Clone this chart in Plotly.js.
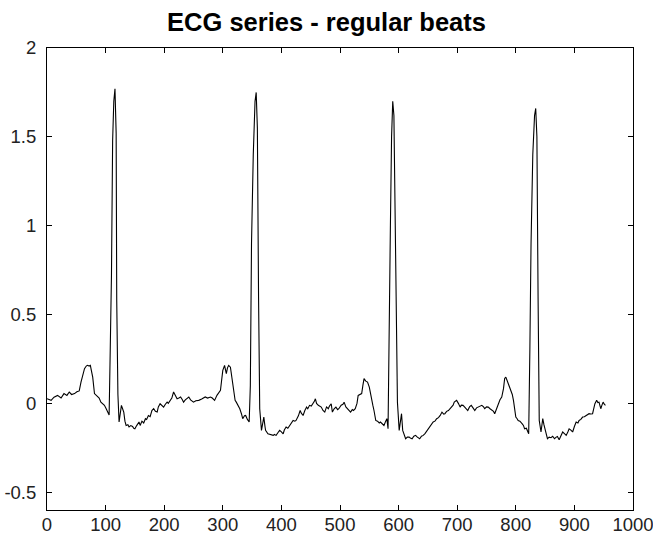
<!DOCTYPE html>
<html>
<head>
<meta charset="utf-8">
<script src="https://cdn.plot.ly/plotly-3.0.1.min.js"></script>
<style>html,body{margin:0;padding:0;background:#fff;}#chart{width:653px;height:536px;}</style>
</head>
<body>
<div id="chart"></div>
<script>
const sampleIndex = [0,7,12,18,24,29,34,38,42,47,51,55,58,61,64,67,69,72,74,76,78,81,84,86,89,92,95,98,101,104,106,108,110,112,114,116,118,119,121,123,125,127,129,131,133,135,138,140,143,146,148,150,153,157,159,162,165,168,170,173,176,179,182,185,188,190,193,196,199,202,205,207,210,213,216,219,222,225,228,231,233,236,239,242,245,248,250,254,259,264,270,274,279,282,286,290,293,296,298,300,303,306,308,310,313,315,317,319,321,323,326,329,332,334,337,339,342,345,347,349,352,355,357,359,361,363,366,368,370,372,373,377,381,386,388,391,394,397,400,403,405,408,411,414,417,420,423,425,429,432,434,437,440,443,445,448,451,454,456,458,460,463,466,468,471,474,477,480,482,485,487,490,493,496,498,502,505,507,510,513,516,518,521,523,526,529,531,534,537,539,541,544,547,550,552,554,556,558,561,564,567,569,572,575,578,580,582,584,586,588,590,592,594,596,598,601,603,605,607,610,612,615,618,620,623,626,629,632,636,639,642,645,649,651,655,659,662,665,668,671,674,677,679,682,685,688,690,693,695,699,702,705,707,710,714,718,721,724,727,730,733,736,739,742,745,747,750,753,756,759,762,764,767,770,773,776,779,781,783,785,787,789,792,794,796,798,800,802,804,807,809,811,813,815,818,820,822,824,826,829,832,834,836,838,840,843,846,848,850,852,854,857,860,863,866,869,871,874,877,880,883,886,889,891,894,897,900,903,906,908,911,914,917,920,923,925,928,931,933,935,938,940,942,945,947,949,951,953];
const ecgValue = [0.026,0.017,0.035,0.045,0.03,0.055,0.045,0.064,0.05,0.055,0.065,0.07,0.12,0.16,0.195,0.21,0.214,0.21,0.214,0.18,0.148,0.055,0.045,0.036,0.03,0.007,0.0,-0.011,-0.03,-0.058,-0.065,0.32,0.72,1.48,1.7,1.77,1.52,0.58,0.05,-0.105,-0.05,-0.011,-0.03,-0.049,-0.1,-0.124,-0.12,-0.133,-0.125,-0.13,-0.14,-0.143,-0.125,-0.105,-0.124,-0.1,-0.11,-0.086,-0.09,-0.068,-0.075,-0.04,-0.03,-0.045,-0.049,-0.02,-0.002,-0.015,-0.021,-0.005,0.007,0.0,0.017,0.03,0.064,0.04,0.026,0.03,0.036,0.02,0.007,0.02,0.03,0.036,0.02,0.01,0.007,0.015,0.017,0.025,0.036,0.03,0.036,0.03,0.017,0.045,0.06,0.073,0.13,0.186,0.214,0.167,0.2,0.214,0.204,0.16,0.111,0.06,0.017,0.007,-0.01,-0.03,-0.06,-0.086,-0.07,-0.068,-0.09,-0.105,0.1,0.9,1.4,1.7,1.75,1.55,0.6,-0.03,-0.152,-0.1,-0.077,-0.13,-0.152,-0.171,-0.175,-0.18,-0.175,-0.18,-0.165,-0.152,-0.16,-0.171,-0.15,-0.133,-0.14,-0.124,-0.11,-0.096,-0.1,-0.096,-0.07,-0.04,-0.055,-0.068,-0.04,-0.021,-0.03,-0.011,-0.015,-0.002,0.01,0.026,0.0,-0.011,-0.015,-0.021,-0.04,-0.049,-0.02,-0.03,-0.015,-0.002,-0.049,-0.03,-0.021,-0.035,-0.03,-0.01,-0.005,0.007,-0.02,-0.03,-0.04,-0.049,-0.035,-0.04,-0.03,0.0,0.045,0.05,0.055,0.1,0.139,0.125,0.12,0.092,0.05,0.017,-0.01,-0.04,-0.096,-0.1,-0.11,-0.105,-0.115,-0.124,-0.1,-0.086,-0.143,0.3,1.0,1.5,1.7,1.62,1.1,0.3,0.007,-0.152,-0.1,-0.058,-0.152,-0.185,-0.199,-0.19,-0.19,-0.195,-0.199,-0.185,-0.18,-0.19,-0.199,-0.185,-0.18,-0.17,-0.152,-0.143,-0.13,-0.105,-0.1,-0.086,-0.08,-0.068,-0.049,-0.06,-0.058,-0.045,-0.04,-0.03,-0.021,-0.01,0.007,0.017,0.0,-0.021,-0.01,-0.011,-0.025,-0.04,-0.02,-0.011,-0.025,-0.04,-0.025,-0.021,-0.015,-0.011,-0.02,-0.03,-0.02,-0.021,-0.03,-0.04,-0.045,-0.058,-0.03,-0.002,0.02,0.036,0.083,0.14,0.148,0.13,0.111,0.1,0.073,0.05,0.017,-0.03,-0.077,-0.085,-0.096,-0.1,-0.105,-0.115,-0.124,-0.143,-0.14,-0.152,-0.171,0.3,0.9,1.4,1.62,1.66,1.5,0.6,-0.096,-0.161,-0.086,-0.12,-0.152,-0.18,-0.199,-0.19,-0.193,-0.185,-0.199,-0.19,-0.186,-0.205,-0.18,-0.161,-0.17,-0.18,-0.16,-0.143,-0.15,-0.161,-0.13,-0.105,-0.11,-0.096,-0.09,-0.077,-0.075,-0.068,-0.065,-0.058,-0.06,-0.058,-0.03,-0.002,0.017,0.005,0.007,-0.03,-0.01,0.007,-0.005,-0.011];
const xTickVals = [0,100,200,300,400,500,600,700,800,900,1000];
const xTickText = ['0','100','200','300','400','500','600','700','800','900','1000'];
const yTickVals = [-0.5,0,0.5,1,1.5,2];
const yTickText = ['-0.5','0','0.5','1','1.5','2'];
const chartTitle = 'ECG series - regular beats';

const tickFont = {family: 'Liberation Sans, Arial, sans-serif', size: 18.5, color: '#222'};
const trace = {
  x: sampleIndex, y: ecgValue, type: 'scatter', mode: 'lines',
  line: {color: '#000', width: 1.1}, hoverinfo: 'skip'
};
const layout = {
  width: 653, height: 536,
  margin: {l: 47, r: 20, t: 48, b: 26, pad: 0},
  paper_bgcolor: '#fff', plot_bgcolor: '#fff',
  showlegend: false,
  title: {text: chartTitle, x: 0.5, xref: 'container', y: 1 - 22/536, yref: 'container', yanchor: 'middle',
          font: {family: 'Liberation Sans, Arial, sans-serif', size: 25.5, weight: 'bold', color: '#000'}},
  xaxis: {range: [0, 1000], tickmode: 'array', tickvals: xTickVals, ticktext: xTickText,
          ticks: 'inside', ticklen: 5, tickcolor: '#000', tickwidth: 1,
          showline: true, linecolor: '#000', linewidth: 1, mirror: 'ticks',
          showgrid: false, zeroline: false, tickfont: tickFont, ticklabelstandoff: -2,
          ticklabeloverflow: 'allow'},
  yaxis: {range: [-0.6, 2], tickmode: 'array', tickvals: yTickVals, ticktext: yTickText,
          ticks: 'inside', ticklen: 5, tickcolor: '#000', tickwidth: 1,
          showline: true, linecolor: '#000', linewidth: 1, mirror: 'ticks',
          showgrid: false, zeroline: false, tickfont: tickFont, ticklabelstandoff: 6,
          ticklabeloverflow: 'allow'}
};
Plotly.newPlot('chart', [trace], layout, {staticPlot: true, displayModeBar: false});
</script>
</body>
</html>
